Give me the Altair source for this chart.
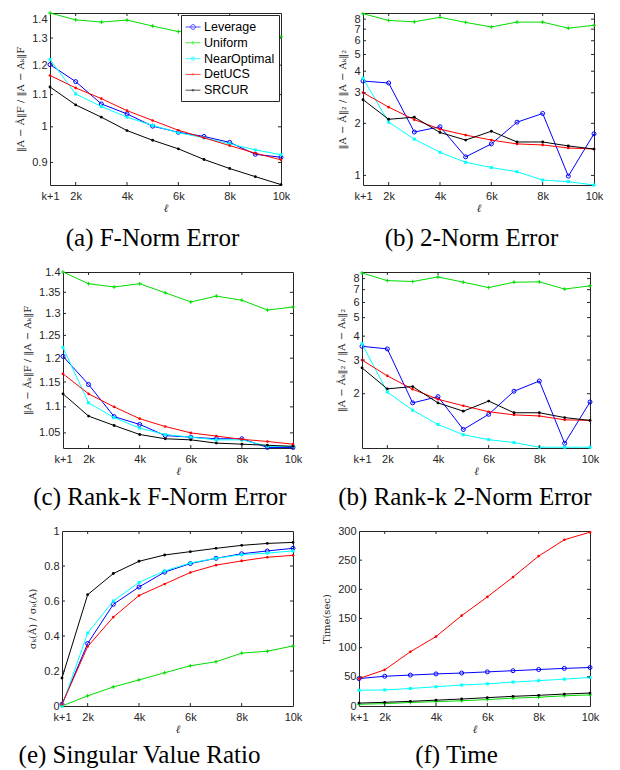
import altair as alt
import pandas as pd

X = [1, 2, 3, 4, 5, 6, 7, 8, 9, 10]
X_TICKS = [1, 2, 4, 6, 8, 10]
X_INNER = [2, 4, 6, 8]
METHODS = ["Leverage", "Uniform", "NearOptimal", "DetUCS", "SRCUR"]
COLORS = ["#0000FF", "#00DD00", "#00FFFF", "#FF0000", "#000000"]

# (a) F-norm error
a_lev = [1.202, 1.143, 1.070, 1.039, 1.002, 0.984, 0.972, 0.955, 0.922, 0.914]
a_uni = [1.400, 1.372, 1.363, 1.371, 1.347, 1.325, 1.340, 1.330, 1.310, 1.305]
a_near = [1.220, 1.102, 1.062, 1.029, 1.004, 0.983, 0.968, 0.951, 0.934, 0.921]
a_det = [1.164, 1.122, 1.087, 1.049, 1.019, 0.990, 0.968, 0.946, 0.925, 0.907]
a_src = [1.125, 1.067, 1.029, 0.989, 0.961, 0.937, 0.908, 0.884, 0.863, 0.843]
a_yticks = [0.9, 1.0, 1.1, 1.2, 1.3, 1.4]

# (b) 2-norm error
b_lev = [3.51, 3.42, 1.78, 1.91, 1.28, 1.52, 2.03, 2.28, 0.99, 1.74]
b_uni = [8.60, 7.86, 7.72, 8.20, 7.66, 7.21, 7.69, 7.69, 7.09, 7.37]
b_near = [3.64, 2.03, 1.62, 1.36, 1.19, 1.11, 1.05, 0.94, 0.92, 0.88]
b_det = [3.01, 2.48, 2.10, 1.85, 1.71, 1.60, 1.52, 1.50, 1.44, 1.42]
b_src = [2.74, 2.11, 2.17, 1.77, 1.60, 1.80, 1.56, 1.56, 1.48, 1.42]
b_yticks = [1, 2, 3, 4, 5, 6, 7, 8]

# (c) rank-k F-norm error
c_lev = [1.204, 1.145, 1.081, 1.066, 1.045, 1.042, 1.039, 1.039, 1.023, 1.023]
c_uni = [1.400, 1.371, 1.363, 1.371, 1.349, 1.327, 1.341, 1.331, 1.308, 1.315]
c_near = [1.223, 1.108, 1.079, 1.059, 1.047, 1.042, 1.037, 1.037, 1.025, 1.025]
c_det = [1.167, 1.126, 1.100, 1.077, 1.062, 1.050, 1.044, 1.038, 1.034, 1.029]
c_src = [1.126, 1.082, 1.064, 1.047, 1.039, 1.037, 1.031, 1.029, 1.027, 1.025]
c_yticks = [1.05, 1.1, 1.15, 1.2, 1.25, 1.3, 1.35, 1.4]

# (d) rank-k 2-norm error
d_lev = [3.54, 3.43, 1.79, 1.93, 1.30, 1.56, 2.06, 2.33, 1.10, 1.81]
d_uni = [8.56, 7.81, 7.72, 8.16, 7.66, 7.18, 7.66, 7.69, 7.05, 7.33]
d_near = [3.65, 2.04, 1.64, 1.38, 1.22, 1.15, 1.11, 1.05, 1.05, 1.05]
d_det = [3.00, 2.48, 2.11, 1.87, 1.73, 1.61, 1.55, 1.53, 1.46, 1.45]
d_src = [2.73, 2.12, 2.18, 1.79, 1.62, 1.83, 1.59, 1.59, 1.50, 1.45]
d_yticks = [2, 3, 4, 5, 6, 7, 8]

# (e) singular value ratio
e_lev = [0.01, 0.357, 0.581, 0.680, 0.765, 0.814, 0.844, 0.870, 0.886, 0.901]
e_uni = [0.0, 0.058, 0.109, 0.149, 0.190, 0.230, 0.253, 0.302, 0.313, 0.343]
e_near = [0.0, 0.417, 0.600, 0.706, 0.772, 0.817, 0.844, 0.865, 0.874, 0.886]
e_det = [0.01, 0.340, 0.508, 0.631, 0.697, 0.763, 0.805, 0.829, 0.850, 0.861]
e_src = [0.16, 0.636, 0.757, 0.827, 0.863, 0.882, 0.901, 0.918, 0.929, 0.935]
e_yticks = [0, 0.2, 0.4, 0.6, 0.8, 1]

# (f) time (sec)
f_lev = [47, 51, 53, 55, 56.5, 58.5, 60.5, 62.5, 64.5, 66]
f_uni = [3, 4, 6, 7.5, 9, 11, 13.5, 15, 17.5, 19]
f_near = [27, 27.5, 30, 33, 36, 38, 41, 43.5, 46, 49]
f_det = [47, 62, 93, 119, 155, 187, 221, 257, 285, 298]
f_src = [5, 6.3, 8, 10, 12, 14.3, 16.6, 18.3, 20.5, 22.2]
f_yticks = [0, 50, 100, 150, 200, 250, 300]

PLUS = "M-1,0H1M0,-1V1"
MARKERS = [
    dict(shape="circle", filled=False, size=16, strokeWidth=1),
    dict(shape=PLUS, filled=False, size=14, strokeWidth=1),
    dict(shape="square", filled=True, size=9),
    dict(shape="circle", filled=True, size=7),
    dict(shape="circle", filled=True, size=8),
]
LEGEND_PATHS = [
    "M-1,0H1M0.32,0A0.32,0.32,0,1,1,-0.32,0A0.32,0.32,0,1,1,0.32,0",
    "M-1,0H1M0,-0.25V0.25",
    "M-1,0H1M-0.18,-0.18H0.18V0.18H-0.18Z",
    "M-1,0H1M0.1,0A0.1,0.1,0,1,1,-0.1,0A0.1,0.1,0,1,1,0.1,0",
    "M-1,0H1M0.12,0A0.12,0.12,0,1,1,-0.12,0A0.12,0.12,0,1,1,0.12,0",
]
INK = "#262626"


def panel(series, ydom, ylog, yvals, ytitle, caption, W, H, cap_offset,
          flush=False, legend=False, cap_dx=0):
    rows = []
    for m, vals in zip(METHODS, series):
        for xv, v in zip(X, vals):
            rows.append({"x": xv, "v": v, "m": m})
    df = pd.DataFrame(rows)
    xs = alt.Scale(domain=[1, 10], nice=False, zero=False)
    if ylog:
        ys = alt.Scale(type="log", domain=ydom, nice=False)
    else:
        ys = alt.Scale(domain=ydom, nice=False, zero=False)
    xax = alt.Axis(values=X_TICKS,
                   labelExpr="datum.value == 1 ? 'k+1' : datum.value + 'k'",
                   title="ℓ", titleFontStyle="italic", titleFontSize=11,
                   titlePadding=1, ticks=False, domain=False, grid=False,
                   labelPadding=5, labelOverlap=False, labelFlush=False)
    yax = alt.Axis(values=yvals, labelExpr="format(datum.value, '.4~g')",
                   title=ytitle, ticks=False, domain=False, grid=False,
                   labelPadding=3, labelOverlap=False, labelFlush=flush,
                   titlePadding=6)
    layers = []
    for i, m in enumerate(METHODS):
        sub = df[df.m == m]
        layers.append(
            alt.Chart(sub).mark_line(
                color=COLORS[i], strokeWidth=1,
                point=alt.OverlayMarkDef(color=COLORS[i], **MARKERS[i]),
            ).encode(x=alt.X("x:Q", scale=xs, axis=xax),
                     y=alt.Y("v:Q", scale=ys, axis=yax))
        )
    tx = pd.DataFrame({"t": X_INNER})
    ty = pd.DataFrame({"t": [v for v in yvals if ydom[0] < v < ydom[1]]})
    tick = dict(color=INK, strokeWidth=1)
    layers += [
        alt.Chart(tx).mark_rule(**tick).encode(
            x=alt.X("t:Q", scale=xs, axis=xax), y=alt.value(H), y2=alt.value(H - 3)),
        alt.Chart(tx).mark_rule(**tick).encode(
            x=alt.X("t:Q", scale=xs, axis=xax), y=alt.value(0), y2=alt.value(3)),
        alt.Chart(ty).mark_rule(**tick).encode(
            y=alt.Y("t:Q", scale=ys, axis=yax), x=alt.value(0), x2=alt.value(3)),
        alt.Chart(ty).mark_rule(**tick).encode(
            y=alt.Y("t:Q", scale=ys, axis=yax), x=alt.value(W), x2=alt.value(W - 3)),
    ]
    if legend:
        leg = alt.Legend(title=None, orient="top-right", offset=2,
                         fillColor="white", strokeColor=INK, padding=4,
                         labelFont="Liberation Sans", labelFontSize=12.5,
                         labelColor="#000000", symbolSize=225,
                         symbolStrokeWidth=1, rowPadding=0.8, labelOffset=3)
        layers.append(
            alt.Chart(df).transform_filter("datum.x < 0").mark_point(filled=False).encode(
                x=alt.X("x:Q", scale=xs, axis=xax),
                y=alt.Y("v:Q", scale=ys, axis=yax),
                color=alt.Color("m:N", scale=alt.Scale(domain=METHODS, range=COLORS), legend=leg),
                shape=alt.Shape("m:N", scale=alt.Scale(domain=METHODS, range=LEGEND_PATHS), legend=leg),
            )
        )
    return alt.layer(*layers).properties(
        width=W, height=H,
        title=alt.TitleParams(caption, orient="bottom", anchor="middle",
                              frame="group", dx=cap_dx,
                              offset=cap_offset, font="Liberation Serif",
                              fontSize=25, fontWeight="normal", color="#000000"),
    )


def spacer(w):
    return alt.Chart(pd.DataFrame({"z": [0]})).mark_point(opacity=0).encode(
        x=alt.X("z:Q", axis=None), y=alt.Y("z:Q", axis=None)
    ).properties(width=w, height=10, view=alt.ViewBackground(stroke="transparent"))


pa = panel([a_lev, a_uni, a_near, a_det, a_src], [0.842, 1.4], True, a_yticks,
           "‖A − Â‖F / ‖A − Aₖ‖F", "(a) F-Norm Error", 231, 172, 13,
           flush=True, legend=True, cap_dx=-13)
pb = panel([b_lev, b_uni, b_near, b_det, b_src], [0.88, 8.68], True, b_yticks,
           "‖A − Â‖₂ / ‖A − Aₖ‖₂", "(b) 2-Norm Error", 231, 172, 13, cap_dx=-7)
pc = panel([c_lev, c_uni, c_near, c_det, c_src], [1.022, 1.4], True, c_yticks,
           "‖A − Âₖ‖F / ‖A − Aₖ‖F", "(c) Rank-k F-Norm Error", 230, 176, 9,
           cap_dx=-18)
pdd = panel([d_lev, d_uni, d_near, d_det, d_src], [1.04, 8.66], True, d_yticks,
            "‖A − Âₖ‖₂ / ‖A − Aₖ‖₂", "(b) Rank-k 2-Norm Error", 228, 176, 9,
            cap_dx=-11)
pe = panel([e_lev, e_uni, e_near, e_det, e_src], [0, 1], False, e_yticks,
           "σₖ(Â) / σₖ(A)", "(e) Singular Value Ratio", 231, 175, 9, cap_dx=-38)
pf = panel([f_lev, f_uni, f_near, f_det, f_src], [0, 300], False, f_yticks,
           "Time(sec)", "(f) Time", 231, 175, 9, cap_dx=-18)

IND = dict(color="independent", shape="independent")
row1 = alt.hconcat(spacer(41), pa, spacer(82), pb, spacing=0,
                   bounds="flush").resolve_scale(**IND).resolve_legend(**IND)
row2 = alt.hconcat(spacer(54), pc, spacer(69), pdd, spacing=0,
                   bounds="flush").resolve_scale(**IND).resolve_legend(**IND)
row3 = alt.hconcat(spacer(53), pe, spacer(66), pf, spacing=0,
                   bounds="flush").resolve_scale(**IND).resolve_legend(**IND)

chart = alt.vconcat(row1, row2, row3, spacing=13).resolve_scale(**IND).resolve_legend(**IND).properties(
    padding={"left": 0, "top": 0, "right": 0, "bottom": 0}
).configure_view(stroke=INK, strokeWidth=1).configure_axis(
    labelFont="Liberation Sans", labelFontSize=11, labelColor=INK,
    titleFont="DejaVu Serif", titleFontSize=10, titleFontWeight="normal",
    titleColor=INK,
)

chart.save("out.html", embed_options={"renderer": "svg", "actions": False})
